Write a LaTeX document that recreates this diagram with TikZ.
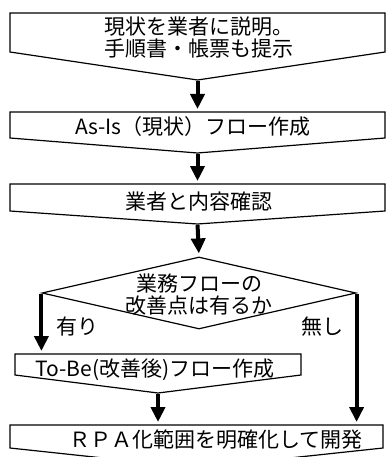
\documentclass[tikz,border=0pt]{standalone}
\usepackage{fontspec}
\setmainfont{Noto Sans CJK JP}
\usepackage{tikz}
\usetikzlibrary{arrows.meta,shapes.geometric}

\begin{document}
\begin{tikzpicture}
	[x=1pt,y=-1pt,font=\fontsize{21}{22}\selectfont,
		flow/.style={rectangle,inner sep=0pt,outer sep=0pt},
		decision/.style={diamond,draw,line width=1.2pt,inner sep=0pt,minimum width=314pt,minimum height=72pt},
		outline/.style={draw,line width=1.2pt,line join=miter},
		txt/.style={align=center,inner sep=0pt},
		flowarrow/.style={-{Triangle[length=15pt,width=14pt]},line width=4pt,shorten <=1pt,shorten >=3pt}]

	\useasboundingbox (0,0) rectangle (386,457);

	% boxes
	\node[flow, minimum width=375pt, minimum height=39pt]  (b1) at (197.5,32.5)  {};
	\node[flow, minimum width=375pt, minimum height=26pt]  (b2) at (197.5,125)   {};
	\node[flow, minimum width=375pt, minimum height=27pt]  (b3) at (197.5,197.5) {};
	\node[flow, minimum width=286pt, minimum height=21pt]  (b4) at (158,364.5)   {};
	\node[flow, minimum width=373pt, minimum height=23pt]  (b5) at (196.5,436.5) {};

	\coordinate (p1) at ([yshift=-28pt]b1.south);
	\coordinate (p2) at ([yshift=-15pt]b2.south);
	\coordinate (p3) at ([yshift=-13pt]b3.south);
	\coordinate (p4) at ([yshift=-18pt]b4.south);
	\coordinate (p5) at ([yshift=-20pt]b5.south);

	\foreach \n in {1,...,5}
		\draw[outline] (b\n.north west) -- (b\n.north east) -- (b\n.south east) -- (p\n) -- (b\n.south west) -- cycle;

	\node[decision] (q) at (199,293) {};

	% texts
	\node[txt] (t1) at (199,38)  {現状を業者に説明。\\手順書・帳票も提示};
	\node[txt] (t2) at (193,127) {As-Is（現状）フロー作成};
	\node[txt] (t3) at (199,202) {業者と内容確認};
	\node[txt] (tq) at (199,295) {業務フローの\\改善点は有るか};
	\node[txt] (t4) at (155,370) {To-Be(改善後)フロー作成};
	\node[txt] (t5) at (216,440) {ＲＰＡ化範囲を明確化して開発};

	\node[txt] (yes) at (77,327)  {有り};
	\node[txt] (no)  at (322,327) {無し};

	\path[flowarrow]
	(p1) edge (p1 |- b2.north)
	(p2) edge (p2 |- b3.north)
	(p3) edge (q.north)
	(q.west) edge (q.west |- b4.north)
	(q.east) edge (q.east |- b5.north)
	(p4) edge (p4 |- b5.north)
	;

\end{tikzpicture}
\end{document}
